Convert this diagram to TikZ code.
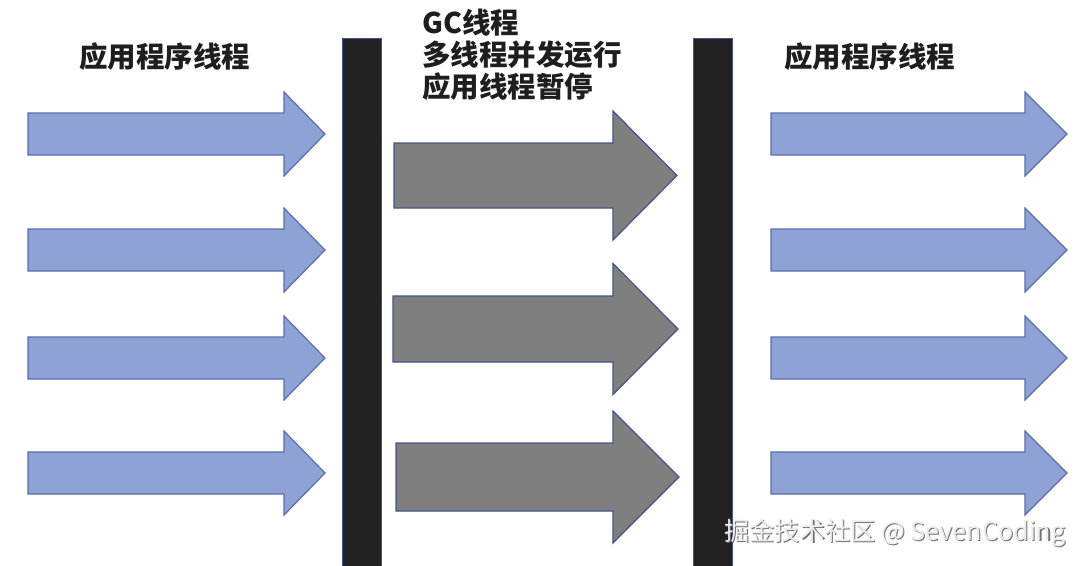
\documentclass[tikz,border=0pt]{standalone}
\usepackage{fontspec}
\newfontfamily\cjk{Noto Sans CJK SC}
\definecolor{bluefill}{HTML}{8FA2D6}
\definecolor{blueline}{HTML}{5A6EA8}
\definecolor{grayfill}{HTML}{7F7F7F}
\definecolor{grayline}{HTML}{44548A}
\definecolor{barfill}{HTML}{222222}
\definecolor{txt}{HTML}{1E1E1E}
\tikzset{
  bluearrow/.style={fill=bluefill, draw=blueline, line width=1.2pt, line join=miter},
  grayarrow/.style={fill=grayfill, draw=grayline, line width=1.2pt, line join=miter},
  barstyle/.style={fill=barfill, draw=grayline, line width=0.6pt},
  label/.style={font=\cjk\bfseries\fontsize{28.5}{32}\selectfont, text=txt, inner sep=0pt, align=left},
  wmark/.style={font=\cjk\fontsize{25.2}{28}\selectfont, inner sep=0pt}
}
\newcommand\blkarrow[7]{%
  \filldraw[#1] (#2,#5-#6) -- (#3,#5-#6) -- (#3,#5-#7) -- (#4,#5) -- (#3,#5+#7) -- (#3,#5+#6) -- (#2,#5+#6) -- cycle;}
\begin{document}
\begin{tikzpicture}[x=1pt,y=-1pt]
\useasboundingbox (0,0) rectangle (1083,565);
\fill[white] (0,0) rectangle (1083,565);
% bars
\filldraw[barstyle] (342,38) rectangle (381,566);
\filldraw[barstyle] (693,38) rectangle (732,566);
% left and right application thread arrows
\foreach \cy in {134,250,358,473}{
  \blkarrow{bluearrow}{28}{284}{325}{\cy}{21}{42}
  \blkarrow{bluearrow}{771}{1025}{1067}{\cy}{21}{42}
}
% GC arrows
\blkarrow{grayarrow}{394}{613}{677}{175.5}{32.5}{64.5}
\blkarrow{grayarrow}{393}{613}{678}{329}{33}{65.5}
\blkarrow{grayarrow}{396}{613}{679}{477}{34}{66}
% labels
\node[label, anchor=west] (appL) at (79,57) {应用程序线程};
\node[label, anchor=west] (appR) at (784,57) {应用程序线程};
\node[label, anchor=north west] (gc) at (422,9) {GC线程\\多线程并发运行\\应用线程暂停};
% watermark
\node[wmark, anchor=west, text=black!55] at (725.2,534.2) {掘金技术社区 @ SevenCoding};
\node[wmark, anchor=west, text=white!93!black] (wm) at (724,533) {掘金技术社区 @ SevenCoding};
\end{tikzpicture}
\end{document}
